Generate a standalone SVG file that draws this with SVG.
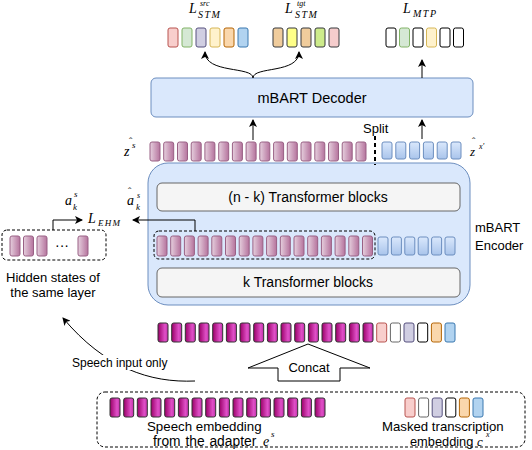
<svg xmlns="http://www.w3.org/2000/svg" width="532" height="450" viewBox="0 0 532 450">
<defs>
<linearGradient id="gMag" x1="0" y1="0" x2="1" y2="0"><stop offset="0" stop-color="#9a0068"/><stop offset="0.7" stop-color="#e050c8"/><stop offset="1" stop-color="#c030a8"/></linearGradient>
<linearGradient id="gPink" x1="0" y1="0" x2="1" y2="0"><stop offset="0" stop-color="#e6d0de"/><stop offset="1" stop-color="#b5739d"/></linearGradient>
<linearGradient id="gBlue" x1="0" y1="0" x2="0" y2="1"><stop offset="0" stop-color="#dae8fc"/><stop offset="1" stop-color="#a9c4eb"/></linearGradient>
<marker id="ah" markerWidth="8" markerHeight="8" refX="7" refY="4" orient="auto" markerUnits="userSpaceOnUse"><path d="M0,0 L8,4 L0,8 L2,4 z" fill="#000"/></marker>
</defs>
<style>
.t{font-family:"Liberation Sans",Arial,sans-serif;fill:#000}
.m{font-family:"Liberation Serif","Times New Roman",serif;font-style:italic;fill:#000}
.tk{stroke-width:1}
.mg{fill:url(#gMag);stroke:#333}
.pk{fill:url(#gPink);stroke:#996185}
.bl{fill:url(#gBlue);stroke:#6c8ebf}
.ln{fill:none;stroke:#000;stroke-width:1}
.dash{fill:none;stroke:#000;stroke-width:1;stroke-dasharray:3 2}
</style>
<rect width="532" height="450" fill="#fff"/>

<g id="top-labels">
<text class="m" font-size="14"><tspan x="189" y="13">L</tspan><tspan x="200" y="6" font-size="8">src</tspan><tspan x="198" y="18" font-size="10" letter-spacing="1.5">STM</tspan></text>
<text class="m" font-size="14"><tspan x="285" y="13">L</tspan><tspan x="297" y="6" font-size="8">tgt</tspan><tspan x="295" y="18" font-size="10" letter-spacing="1.5">STM</tspan></text>
<text class="m" font-size="14"><tspan x="403" y="13">L</tspan><tspan x="413" y="17" font-size="10" letter-spacing="1.5">MTP</tspan></text>
</g>

<g id="src-tokens" class="tk">
<rect x="168" y="28" width="10" height="19" rx="2" fill="#f8cecc" stroke="#b85450"/>
<rect x="182" y="28" width="10" height="19" rx="2" fill="#d5e8d4" stroke="#82b366"/>
<rect x="196" y="28" width="10" height="19" rx="2" fill="#d0cee2" stroke="#56517e"/>
<rect x="210" y="28" width="10" height="19" rx="2" fill="#fff2cc" stroke="#d6b656"/>
<rect x="224" y="28" width="10" height="19" rx="2" fill="#fad7ac" stroke="#b46504"/>
<rect x="238" y="28" width="10" height="19" rx="2" fill="#b1d3f0" stroke="#3a78b0"/>
</g>
<g id="tgt-tokens" class="tk">
<rect x="273" y="28" width="10" height="19" rx="2" fill="#f0cc9c" stroke="#36393d"/>
<rect x="287" y="28" width="10" height="19" rx="2" fill="#ffff88" stroke="#36393d"/>
<rect x="301" y="28" width="10" height="19" rx="2" fill="#f0cc9c" stroke="#36393d"/>
<rect x="315" y="28" width="10" height="19" rx="2" fill="#cdeb8b" stroke="#36393d"/>
<rect x="329" y="28" width="10" height="19" rx="2" fill="#f5cccc" stroke="#36393d"/>
</g>
<g id="mtp-tokens" class="tk">
<rect x="386" y="28" width="10" height="19" rx="2" fill="#fff" stroke="#000"/>
<rect x="399.5" y="28" width="10" height="19" rx="2" fill="#d5e8d4" stroke="#82b366"/>
<rect x="413" y="28" width="10" height="19" rx="2" fill="#fff" stroke="#000"/>
<rect x="426.5" y="28" width="10" height="19" rx="2" fill="#fff2cc" stroke="#d6b656"/>
<rect x="440" y="28" width="10" height="19" rx="2" fill="#fff" stroke="#000"/>
<rect x="453.5" y="28" width="10" height="19" rx="2" fill="#fff" stroke="#000"/>
</g>

<g id="decoder">
<rect x="151" y="78" width="322" height="39" rx="5" fill="#dae8fc" stroke="#6c8ebf"/>
<text class="t" x="312" y="103" font-size="14.5" text-anchor="middle">mBART Decoder</text>
</g>

<g id="z-row" class="tk">
<rect class="pk" x="150" y="142" width="10" height="19" rx="2"/>
<rect class="pk" x="163.7" y="142" width="10" height="19" rx="2"/>
<rect class="pk" x="177.5" y="142" width="10" height="19" rx="2"/>
<rect class="pk" x="191.2" y="142" width="10" height="19" rx="2"/>
<rect class="pk" x="204.9" y="142" width="10" height="19" rx="2"/>
<rect class="pk" x="218.7" y="142" width="10" height="19" rx="2"/>
<rect class="pk" x="232.4" y="142" width="10" height="19" rx="2"/>
<rect class="pk" x="246.1" y="142" width="10" height="19" rx="2"/>
<rect class="pk" x="259.8" y="142" width="10" height="19" rx="2"/>
<rect class="pk" x="273.6" y="142" width="10" height="19" rx="2"/>
<rect class="pk" x="287.3" y="142" width="10" height="19" rx="2"/>
<rect class="pk" x="301" y="142" width="10" height="19" rx="2"/>
<rect class="pk" x="314.8" y="142" width="10" height="19" rx="2"/>
<rect class="pk" x="328.5" y="142" width="10" height="19" rx="2"/>
<rect class="pk" x="342.2" y="142" width="10" height="19" rx="2"/>
<rect class="pk" x="356" y="142" width="10" height="19" rx="2"/>
<rect class="bl" x="382" y="142" width="10" height="17" rx="2"/>
<rect class="bl" x="395.8" y="142" width="10" height="17" rx="2"/>
<rect class="bl" x="409.6" y="142" width="10" height="17" rx="2"/>
<rect class="bl" x="423.4" y="142" width="10" height="17" rx="2"/>
<rect class="bl" x="437.2" y="142" width="10" height="17" rx="2"/>
<rect class="bl" x="451" y="142" width="10" height="17" rx="2"/>
</g>
<g id="z-labels">
<text class="m" font-size="14"><tspan x="124" y="156">z</tspan><tspan x="132" y="148" font-size="9">s</tspan><tspan x="129" y="145" font-size="10" font-style="normal">ˆ</tspan></text>
<text class="t" x="363" y="133" font-size="13">Split</text>
<text class="m" font-size="13"><tspan x="470" y="156">z</tspan><tspan x="479" y="149" font-size="8">x'</tspan><tspan x="472" y="145" font-size="10" font-style="normal">ˆ</tspan></text>
</g>

<g id="encoder">
<rect x="148" y="163" width="322" height="142" rx="20" fill="#dae8fc" stroke="#6c8ebf"/>
<text class="t" x="475" y="232" font-size="13">mBART</text>
<text class="t" x="475" y="250" font-size="13">Encoder</text>
</g>
<g id="nk-blocks">
<rect x="157" y="183" width="303" height="28" rx="5" fill="#f5f5f5" stroke="#666"/>
<text class="t" x="308" y="202" font-size="14" text-anchor="middle">(n - k) Transformer blocks</text>
</g>
<g id="k-blocks">
<rect x="157" y="268" width="303" height="29" rx="5" fill="#f5f5f5" stroke="#666"/>
<text class="t" x="308" y="287" font-size="14" text-anchor="middle">k Transformer blocks</text>
</g>
<g id="layer-k" class="tk">
<rect class="dash" x="154" y="231" width="221" height="28" rx="5"/>
<rect class="pk" x="157" y="236" width="10" height="20" rx="2"/>
<rect class="pk" x="170.7" y="236" width="10" height="20" rx="2"/>
<rect class="pk" x="184.4" y="236" width="10" height="20" rx="2"/>
<rect class="pk" x="198.1" y="236" width="10" height="20" rx="2"/>
<rect class="pk" x="211.8" y="236" width="10" height="20" rx="2"/>
<rect class="pk" x="225.5" y="236" width="10" height="20" rx="2"/>
<rect class="pk" x="239.2" y="236" width="10" height="20" rx="2"/>
<rect class="pk" x="252.9" y="236" width="10" height="20" rx="2"/>
<rect class="pk" x="266.6" y="236" width="10" height="20" rx="2"/>
<rect class="pk" x="280.3" y="236" width="10" height="20" rx="2"/>
<rect class="pk" x="294" y="236" width="10" height="20" rx="2"/>
<rect class="pk" x="307.7" y="236" width="10" height="20" rx="2"/>
<rect class="pk" x="321.4" y="236" width="10" height="20" rx="2"/>
<rect class="pk" x="335.1" y="236" width="10" height="20" rx="2"/>
<rect class="pk" x="348.8" y="236" width="10" height="20" rx="2"/>
<rect class="pk" x="362.5" y="236" width="10" height="20" rx="2"/>
<rect class="bl" x="378" y="237" width="10" height="18" rx="2"/>
<rect class="bl" x="391.4" y="237" width="10" height="18" rx="2"/>
<rect class="bl" x="404.8" y="237" width="10" height="18" rx="2"/>
<rect class="bl" x="418.2" y="237" width="10" height="18" rx="2"/>
<rect class="bl" x="431.6" y="237" width="10" height="18" rx="2"/>
<rect class="bl" x="445" y="237" width="10" height="18" rx="2"/>
</g>

<g id="hidden-states" class="tk">
<rect class="dash" x="2" y="230" width="104" height="30" rx="5"/>
<rect class="pk" x="10" y="236" width="10" height="20" rx="2"/>
<rect class="pk" x="23.5" y="236" width="10" height="20" rx="2"/>
<rect class="pk" x="37" y="236" width="10" height="20" rx="2"/>
<text class="t" x="62" y="250" font-size="14" text-anchor="middle">···</text>
<rect class="pk" x="78" y="236" width="10" height="20" rx="2"/>
<text class="t" x="53" y="282" font-size="13" text-anchor="middle">Hidden states of</text>
<text class="t" x="53" y="297" font-size="13" text-anchor="middle">the same layer</text>
</g>
<g id="ehm-labels">
<text class="m" font-size="14"><tspan x="65" y="205">a</tspan><tspan x="74" y="197" font-size="9">s</tspan><tspan x="73" y="210" font-size="9">k</tspan></text>
<text class="m" font-size="14"><tspan x="127" y="205">a</tspan><tspan x="137" y="198" font-size="8">s</tspan><tspan x="136" y="210" font-size="9">k</tspan><tspan x="128" y="195" font-size="10" font-style="normal">ˆ</tspan></text>
<text class="m" font-size="14"><tspan x="88" y="223">L</tspan><tspan x="98" y="226" font-size="9" letter-spacing="1.2">EHM</tspan></text>
</g>

<g id="input-row" class="tk">
<rect class="mg" x="158" y="323" width="10" height="19" rx="2"/>
<rect class="mg" x="171.7" y="323" width="10" height="19" rx="2"/>
<rect class="mg" x="185.3" y="323" width="10" height="19" rx="2"/>
<rect class="mg" x="199" y="323" width="10" height="19" rx="2"/>
<rect class="mg" x="212.7" y="323" width="10" height="19" rx="2"/>
<rect class="mg" x="226.4" y="323" width="10" height="19" rx="2"/>
<rect class="mg" x="240" y="323" width="10" height="19" rx="2"/>
<rect class="mg" x="253.7" y="323" width="10" height="19" rx="2"/>
<rect class="mg" x="267.4" y="323" width="10" height="19" rx="2"/>
<rect class="mg" x="281" y="323" width="10" height="19" rx="2"/>
<rect class="mg" x="294.7" y="323" width="10" height="19" rx="2"/>
<rect class="mg" x="308.4" y="323" width="10" height="19" rx="2"/>
<rect class="mg" x="322" y="323" width="10" height="19" rx="2"/>
<rect class="mg" x="335.7" y="323" width="10" height="19" rx="2"/>
<rect class="mg" x="349.4" y="323" width="10" height="19" rx="2"/>
<rect class="mg" x="363" y="323" width="10" height="19" rx="2"/>
<rect x="376.7" y="323" width="10" height="19" rx="2" fill="#f8cecc" stroke="#b85450"/>
<rect x="390.4" y="323" width="10" height="19" rx="2" fill="#fff" stroke="#666"/>
<rect x="404" y="323" width="10" height="19" rx="2" fill="#d0cee2" stroke="#56517e"/>
<rect x="417.7" y="323" width="10" height="19" rx="2" fill="#fff" stroke="#000"/>
<rect x="431.4" y="323" width="10" height="19" rx="2" fill="#fad7ac" stroke="#b46504"/>
<rect x="445" y="323" width="10" height="19" rx="2" fill="#b1d3f0" stroke="#3a78b0"/>
</g>

<g id="concat">
<polygon points="308,344 370,368 340,368 340,381 278,381 278,368 248,368" fill="#fff" stroke="#000"/>
<text class="t" x="309" y="372" font-size="13" text-anchor="middle">Concat</text>
</g>

<g id="input-box">
<rect class="dash" x="97" y="392" width="428" height="55" rx="8"/>
<g class="tk">
<rect class="mg" x="110" y="398" width="10" height="19" rx="2"/>
<rect class="mg" x="123.7" y="398" width="10" height="19" rx="2"/>
<rect class="mg" x="137.3" y="398" width="10" height="19" rx="2"/>
<rect class="mg" x="151" y="398" width="10" height="19" rx="2"/>
<rect class="mg" x="164.7" y="398" width="10" height="19" rx="2"/>
<rect class="mg" x="178.4" y="398" width="10" height="19" rx="2"/>
<rect class="mg" x="192" y="398" width="10" height="19" rx="2"/>
<rect class="mg" x="205.7" y="398" width="10" height="19" rx="2"/>
<rect class="mg" x="219.4" y="398" width="10" height="19" rx="2"/>
<rect class="mg" x="233" y="398" width="10" height="19" rx="2"/>
<rect class="mg" x="246.7" y="398" width="10" height="19" rx="2"/>
<rect class="mg" x="260.4" y="398" width="10" height="19" rx="2"/>
<rect class="mg" x="274" y="398" width="10" height="19" rx="2"/>
<rect class="mg" x="287.7" y="398" width="10" height="19" rx="2"/>
<rect class="mg" x="301.4" y="398" width="10" height="19" rx="2"/>
<rect class="mg" x="315" y="398" width="10" height="19" rx="2"/>
<rect x="405" y="398" width="10" height="19" rx="2" fill="#f8cecc" stroke="#b85450"/>
<rect x="418.6" y="398" width="10" height="19" rx="2" fill="#fff" stroke="#666"/>
<rect x="432.2" y="398" width="10" height="19" rx="2" fill="#d0cee2" stroke="#56517e"/>
<rect x="445.8" y="398" width="10" height="19" rx="2" fill="#fff" stroke="#000"/>
<rect x="459.4" y="398" width="10" height="19" rx="2" fill="#fad7ac" stroke="#b46504"/>
<rect x="473" y="398" width="10" height="19" rx="2" fill="#b1d3f0" stroke="#3a78b0"/>
</g>
<text class="t" x="147" y="431" font-size="13.3">Speech embedding</text>
<text class="t" font-size="13.8"><tspan x="153" y="446" word-spacing="1">from the adapter</tspan><tspan x="263" y="446" class="m" font-size="14">e</tspan><tspan x="271" y="437" class="m" font-size="9">s</tspan></text>
<text class="t" x="382" y="431" font-size="13.2">Masked transcription</text>
<text class="t" font-size="12.8"><tspan x="410" y="446">embedding</tspan><tspan x="477" y="446" class="m" font-size="13">c</tspan><tspan x="486" y="437" class="m" font-size="8">x'</tspan></text>
</g>

<g id="connectors">
<path class="ln" d="M253,78 C253,66 205,74 205,52" marker-end="url(#ah)"/>
<path class="ln" d="M253,78 C253,66 299,74 299,52" marker-end="url(#ah)"/>
<path class="ln" d="M422,78 V60" marker-end="url(#ah)"/>
<path class="ln" d="M253,140 V120" marker-end="url(#ah)"/>
<path class="ln" d="M422,139 V120" marker-end="url(#ah)"/>
<path d="M375,136 V165" fill="none" stroke="#000" stroke-width="2" stroke-dasharray="4 3"/>
<path class="ln" d="M53,230 V220 H82" stroke="#333" marker-end="url(#ah)"/>
<path class="ln" d="M195,231 V220 H133" stroke="#333" marker-end="url(#ah)"/>
<path class="ln" d="M195,381 C150,383 105,368 63,318" marker-end="url(#ah)"/>
<rect x="70" y="355" width="99" height="15" fill="#fff"/>
<text class="t" x="72" y="367" font-size="12">Speech input only</text>
</g>
</svg>
